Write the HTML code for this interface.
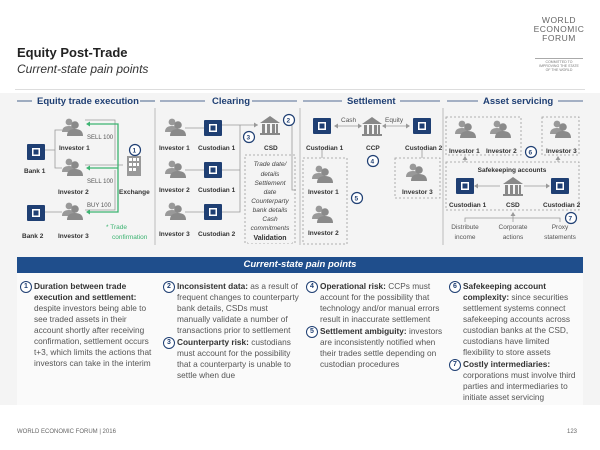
<!DOCTYPE html>
<html><head><meta charset="utf-8"><style>
body{margin:0;width:600px;height:450px;background:#fff;font-family:"Liberation Sans",sans-serif;overflow:hidden;position:relative}
.t{position:absolute;white-space:nowrap}
.col{position:absolute;top:281px;font-size:8.3px;line-height:11px;color:#555;width:124px}
.col b{color:#333}
.c{display:inline-block;width:10px;height:10px;border:1.2px solid #1f3f73;border-radius:50%;font-size:7px;line-height:10px;text-align:center;color:#1f3f73;font-weight:bold;position:absolute;left:-14px;top:0;background:#fff}
.p{position:relative;margin-bottom:1px}
</style></head><body>
<div class="t" style="left:17px;top:45px;font-size:13px;font-weight:bold;color:#222">Equity Post-Trade</div>
<div class="t" style="left:17px;top:62px;font-size:12px;font-style:italic;color:#333">Current-state pain points</div>
<div class="t" style="left:531px;top:16px;font-size:8.5px;line-height:9px;text-align:center;color:#666;letter-spacing:.5px;width:56px">WORLD<br>ECONOMIC<br>FORUM</div>
<div style="position:absolute;left:535px;top:58px;width:48px;border-top:1px solid #aaa"></div>
<div class="t" style="left:531px;top:60px;font-size:3.5px;line-height:4px;text-align:center;color:#777;width:56px">COMMITTED TO<br>IMPROVING THE STATE<br>OF THE WORLD</div>
<div style="position:absolute;left:15px;top:89px;width:570px;border-top:1px solid #ddd"></div>
<div style="position:absolute;left:0;top:93px;width:600px;height:312px;background:#f4f4f4"></div>
<svg style="position:absolute;left:0;top:0" width="600" height="260" font-family="Liberation Sans" font-size="6.5" font-weight="bold" fill="#333">
<defs>
<g id="pp"><circle cx="-3" cy="-6" r="3.4" fill="#999"/><path d="M-10 4 Q-10 -2 -3 -2 Q4 -2 4 4Z" fill="#999"/><circle cx="3" cy="-3" r="3.8" fill="#8a8a8a"/><path d="M-5 8 Q-5 1 3 1 Q11 1 11 8Z" fill="#8a8a8a"/></g>
<g id="bk"><rect x="-9" y="-8" width="18" height="16" rx="1" fill="#1f3f73"/><rect x="-4" y="-4" width="8" height="8" fill="#fff"/><rect x="-2.5" y="-2.5" width="5" height="5" fill="#1f3f73"/></g>
<g id="cs"><path d="M-10 -3 L0 -10 L10 -3Z" fill="#888"/><rect x="-8" y="-2" width="3" height="9" fill="#888"/><rect x="-3" y="-2" width="3" height="9" fill="#888"/><rect x="2" y="-2" width="3" height="9" fill="#888"/><rect x="6" y="-2" width="2" height="9" fill="#888"/><rect x="-10" y="7" width="20" height="2" fill="#888"/></g>
<g id="cc"><circle r="5.5" fill="#fff" stroke="#1f3f73" stroke-width="1.2"/></g>
</defs>
<g font-size="9.5" fill="#1f3f73">
<text x="37" y="104">Equity trade execution</text><text x="212" y="104">Clearing</text><text x="347" y="104">Settlement</text><text x="483" y="104">Asset servicing</text></g>
<g stroke="#1f3f73" stroke-width="0.8"><line x1="17" y1="101" x2="32" y2="101"/><line x1="140" y1="101" x2="155" y2="101"/><line x1="160" y1="101" x2="205" y2="101"/><line x1="252" y1="101" x2="297" y2="101"/><line x1="303" y1="101" x2="342" y2="101"/><line x1="400" y1="101" x2="440" y2="101"/><line x1="447" y1="101" x2="478" y2="101"/><line x1="558" y1="101" x2="583" y2="101"/></g>
<g stroke="#bbb" stroke-width="1"><line x1="155" y1="108" x2="155" y2="245"/><line x1="300" y1="108" x2="300" y2="245"/><line x1="443" y1="108" x2="443" y2="245"/></g>
<g stroke="#999" stroke-width="0.8" fill="none"><path d="M45 150 H55 V130 H62 M55 150 V168 H62"/><path d="M45 212 H62"/><path d="M85 120 H115 V160 M85 165 H123 M85 210 H115 V170"/></g>
<g stroke="#3cb371" stroke-width="1.3" fill="none"><path d="M88 124 H118 V212 H88 M118 168 H88"/></g>
<g fill="#3cb371"><path d="M86 124 l4 -2.5 v5z"/><path d="M86 168 l4 -2.5 v5z"/><path d="M86 212 l4 -2.5 v5z"/></g>
<use href="#pp" x="72" y="128"/><use href="#pp" x="72" y="168"/><use href="#pp" x="72" y="212"/>
<use href="#bk" x="36" y="152"/><use href="#bk" x="36" y="213"/>
<g transform="translate(127,156)"><rect width="14" height="20" fill="#999"/><g fill="#fff"><rect x="2" y="2" width="3" height="3"/><rect x="6" y="2" width="3" height="3"/><rect x="10" y="2" width="2" height="3"/><rect x="2" y="7" width="3" height="3"/><rect x="6" y="7" width="3" height="3"/><rect x="10" y="7" width="2" height="3"/><rect x="2" y="12" width="3" height="3"/><rect x="6" y="12" width="3" height="3"/></g></g>
<text x="59" y="150">Investor 1</text><text x="24" y="173">Bank 1</text><text x="58" y="194">Investor 2</text><text x="119" y="194">Exchange</text><text x="22" y="238">Bank 2</text><text x="58" y="238">Investor 3</text>
<g font-weight="normal" font-size="6" fill="#555"><text x="87" y="139">SELL 100</text><text x="87" y="183">SELL 100</text><text x="87" y="207">BUY 100</text></g>
<g font-weight="normal" font-size="6.5" fill="#3cb371"><text x="106" y="229">*  Trade</text><text x="112" y="239">confirmation</text></g>
<use href="#cc" x="135" y="150"/><text x="132.5" y="152.5" fill="#1f3f73">1</text>
<g stroke="#999" stroke-width="0.8" fill="none"><path d="M185 128 H204 M185 170 H204 M185 212 H204 M222 125 H258 M222 170 H240 V125 M222 212 H240 V170 M283 120 H292 V190 H296"/></g>
<path d="M258 125 l-4 -2.5 v5z" fill="#999"/>
<use href="#pp" x="175" y="128"/><use href="#pp" x="175" y="170"/><use href="#pp" x="175" y="212"/>
<use href="#bk" x="213" y="128"/><use href="#bk" x="213" y="170"/><use href="#bk" x="213" y="212"/>
<use href="#cs" x="270" y="126"/>
<text x="159" y="150">Investor 1</text><text x="198" y="150">Custodian 1</text><text x="264" y="150">CSD</text>
<text x="159" y="192">Investor 2</text><text x="198" y="192">Custodian 1</text>
<text x="159" y="236">Investor 3</text><text x="198" y="236">Custodian 2</text>
<rect x="245" y="155" width="50" height="88" fill="none" stroke="#999" stroke-dasharray="2,2" stroke-width="0.8"/>
<rect x="248" y="231" width="44" height="12" fill="#f4f4f4"/>
<g font-weight="normal" font-style="italic" font-size="6.5" fill="#444" text-anchor="middle"><text x="270" y="166">Trade date/</text><text x="270" y="176">details</text><text x="270" y="185">Settlement</text><text x="270" y="194">date</text><text x="270" y="203">Counterparty</text><text x="270" y="212">bank details</text><text x="270" y="221">Cash</text><text x="270" y="230">commitments</text></g>
<text x="270" y="240" text-anchor="middle" font-size="7">Validation</text>
<use href="#cc" x="289" y="120"/><text x="286.5" y="122.5" fill="#1f3f73">2</text>
<use href="#cc" x="249" y="137"/><text x="246.5" y="139.5" fill="#1f3f73">3</text>
<g stroke="#999" stroke-width="0.8" fill="none"><path d="M336 126 H360 M384 126 H408 M322 150 V158 M422 150 V158"/></g>
<g fill="#999"><path d="M334 126 l4 -2.5 v5z M362 126 l-4 -2.5 v5z M382 126 l4 -2.5 v5z M410 126 l-4 -2.5 v5z"/></g>
<use href="#bk" x="322" y="126"/><use href="#cs" x="372" y="127"/><use href="#bk" x="422" y="126"/>
<g font-weight="normal" font-size="6.5" fill="#555"><text x="341" y="122">Cash</text><text x="385" y="122">Equity</text></g>
<text x="306" y="150">Custodian 1</text><text x="366" y="150">CCP</text><text x="405" y="150">Custodian 2</text>
<use href="#cc" x="373" y="161"/><text x="370.5" y="163.5" fill="#1f3f73">4</text>
<rect x="303" y="158" width="44" height="86" fill="none" stroke="#999" stroke-dasharray="2,2" stroke-width="0.8"/>
<rect x="395" y="158" width="45" height="40" fill="none" stroke="#999" stroke-dasharray="2,2" stroke-width="0.8"/>
<use href="#pp" x="322" y="175"/><use href="#pp" x="322" y="215"/><use href="#pp" x="416" y="173"/>
<text x="308" y="194">Investor 1</text><text x="308" y="235">Investor 2</text><text x="402" y="194">Investor 3</text>
<use href="#cc" x="357" y="198"/><text x="354.5" y="200.5" fill="#1f3f73">5</text>
<rect x="446" y="117" width="75" height="38" fill="none" stroke="#999" stroke-dasharray="2,2" stroke-width="0.8"/>
<rect x="542" y="117" width="37" height="38" fill="none" stroke="#999" stroke-dasharray="2,2" stroke-width="0.8"/>
<rect x="446" y="162" width="133" height="48" fill="none" stroke="#999" stroke-dasharray="2,2" stroke-width="0.8"/>
<use href="#pp" x="465" y="130"/><use href="#pp" x="500" y="130"/><use href="#pp" x="560" y="130"/>
<text x="449" y="153">Investor 1</text><text x="486" y="153">Investor 2</text><text x="546" y="153">Investor 3</text>
<use href="#cc" x="531" y="152"/><text x="528.5" y="154.5" fill="#1f3f73">6</text>
<g stroke="#999" stroke-width="0.8" fill="none"><path d="M465 162 V157 M558 162 V157 M476 186 H500 M524 186 H548 M513 214 V222 M465 222 V218 H560 V222"/></g>
<g fill="#999"><path d="M465 156 l-2.5 4 h5z M558 156 l-2.5 4 h5z M474 186 l4 -2.5 v5z M550 186 l-4 -2.5 v5z M513 212 l-2.5 4 h5z"/></g>
<text x="512" y="172" text-anchor="middle">Safekeeping accounts</text>
<use href="#bk" x="465" y="186"/><use href="#cs" x="513" y="187"/><use href="#bk" x="560" y="186"/>
<text x="449" y="207">Custodian 1</text><text x="506" y="207">CSD</text><text x="543" y="207">Custodian 2</text>
<use href="#cc" x="571" y="218"/><text x="568.5" y="220.5" fill="#1f3f73">7</text>
<g font-weight="normal" font-size="6.5" fill="#555" text-anchor="middle"><text x="465" y="229">Distribute</text><text x="465" y="239">income</text><text x="513" y="229">Corporate</text><text x="513" y="239">actions</text><text x="560" y="229">Proxy</text><text x="560" y="239">statements</text></g>
</svg>
<div style="position:absolute;left:17px;top:257px;width:566px;height:16px;background:#1f4e8c;color:#fff;font-size:9.5px;font-weight:bold;font-style:italic;text-align:center;line-height:16px">Current-state pain points</div>
<div style="position:absolute;left:17px;top:273px;width:566px;height:132px;background:#fafafa"></div>
<div class="col" style="left:34px"><div class="p"><span class="c">1</span><b>Duration between trade execution and settlement:</b> despite investors being able to see traded assets in their account shortly after receiving confirmation, settlement occurs t+3, which limits the actions that investors can take in the interim</div></div>
<div class="col" style="left:177px"><div class="p"><span class="c">2</span><b>Inconsistent data:</b> as a result of frequent changes to counterparty bank details, CSDs must manually validate a number of transactions prior to settlement</div><div class="p"><span class="c">3</span><b>Counterparty risk:</b> custodians must account for the possibility that a counterparty is unable to settle when due</div></div>
<div class="col" style="left:320px"><div class="p"><span class="c">4</span><b>Operational risk:</b> CCPs must account for the possibility that technology and/or manual errors result in inaccurate settlement</div><div class="p"><span class="c">5</span><b>Settlement ambiguity:</b> investors are inconsistently notified when their trades settle depending on custodian procedures</div></div>
<div class="col" style="left:463px;width:118px"><div class="p"><span class="c">6</span><b>Safekeeping account complexity:</b> since securities settlement systems connect safekeeping accounts across custodian banks at the CSD, custodians have limited flexibility to store assets</div><div class="p"><span class="c">7</span><b>Costly intermediaries:</b> corporations must involve third parties and intermediaries to initiate asset servicing</div></div>
<div class="t" style="left:17px;top:429px;font-size:6px;color:#666">WORLD ECONOMIC FORUM | 2016</div>
<div class="t" style="left:567px;top:429px;font-size:6px;color:#666">123</div>
</body></html>
